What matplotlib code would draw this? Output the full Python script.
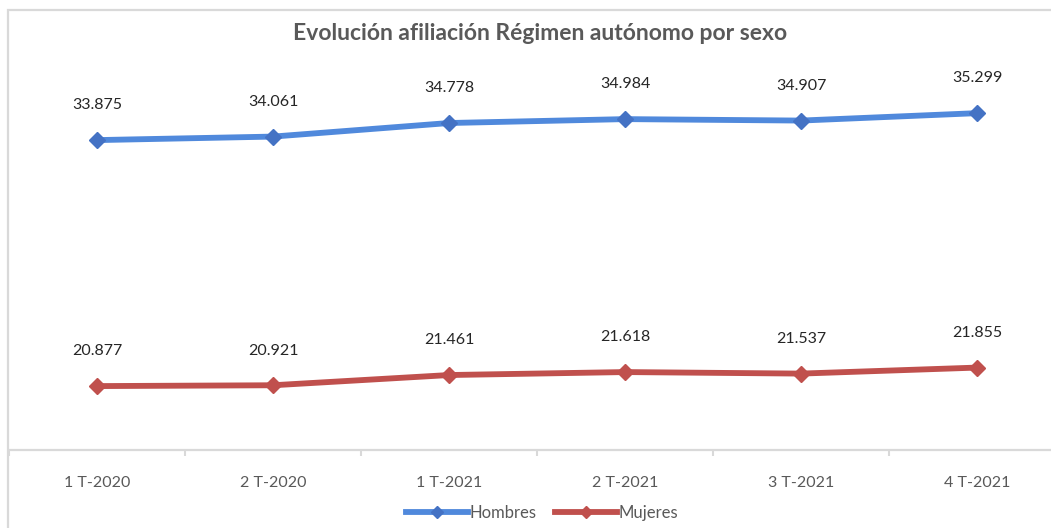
import matplotlib
matplotlib.use("Agg")
import matplotlib.pyplot as plt
from matplotlib.patches import Rectangle
from matplotlib.lines import Line2D

# Datos
trimestres = ["1 T-2020", "2 T-2020", "1 T-2021", "2 T-2021", "3 T-2021", "4 T-2021"]
hombres = [33875, 34061, 34778, 34984, 34907, 35299]
mujeres = [20877, 20921, 21461, 21618, 21537, 21855]

plt.rcParams['font.family'] = ['Lato', 'DejaVu Sans']

W, H = 1051, 528
fig = plt.figure(figsize=(W / 100, H / 100), dpi=100)

# marco del gráfico
fig.patches.append(Rectangle((8 / W, -0.1), 1.2, (H - 10) / H + 0.1, transform=fig.transFigure,
                             fill=False, edgecolor="#d9d9d9", lw=1.6))

ax = fig.add_axes([9 / W, 78 / H, 1056 / W, 378.5 / H])
x = list(range(len(trimestres)))

series = [(hombres, "Hombres", "#5089dc", "#4472c4"),
          (mujeres, "Mujeres", "#c0504d", "#c0504d")]
for vals, nombre, col, mcol in series:
    ax.plot(x, vals, color=col, lw=4.2, marker="D", markersize=8,
            markerfacecolor=mcol, markeredgecolor=mcol, label=nombre, zorder=3)
    for xi, v in zip(x, vals):
        ax.annotate(f"{v:,}".replace(",", "."), (xi, v), xytext=(0, 25),
                    textcoords="offset points", ha="center", va="center",
                    fontsize=11.5, color="#262626")

ax.set_xlim(-0.5, len(trimestres) - 0.5)
ax.set_ylim(17500, 37500)
ax.set_yticks([])
for s in ["top", "right", "left"]:
    ax.spines[s].set_visible(False)
ax.spines["bottom"].set_color("#d9d9d9")
ax.spines["bottom"].set_linewidth(1.6)

ax.set_xticks(x)
ax.set_xticklabels(trimestres, fontsize=11.5, color="#595959")
ax.tick_params(axis="x", length=0, pad=19)
ax.set_xticks([i + 0.5 for i in range(-1, len(trimestres))], minor=True)
ax.tick_params(axis="x", which="minor", length=4, color="#d9d9d9", width=1.5)

fig.text(540 / W, 1 - 34 / H, "Evolución afiliación Régimen autónomo por sexo",
         ha="center", va="center", fontsize=16.5, fontweight="bold", color="#595959")

handles = [Line2D([0], [0], color=c, lw=4.2, marker="D", markersize=6,
                  markerfacecolor=m, markeredgecolor=m) for _, _, c, m in series]
fig.legend(handles, [s[1] for s in series], loc="center", bbox_to_anchor=(542 / W, 1 - 513 / H),
           ncol=2, frameon=False, fontsize=12, handlelength=3.7, handletextpad=0.1,
           columnspacing=1.1, labelcolor="#595959")

fig.savefig("out.png", dpi=100)
